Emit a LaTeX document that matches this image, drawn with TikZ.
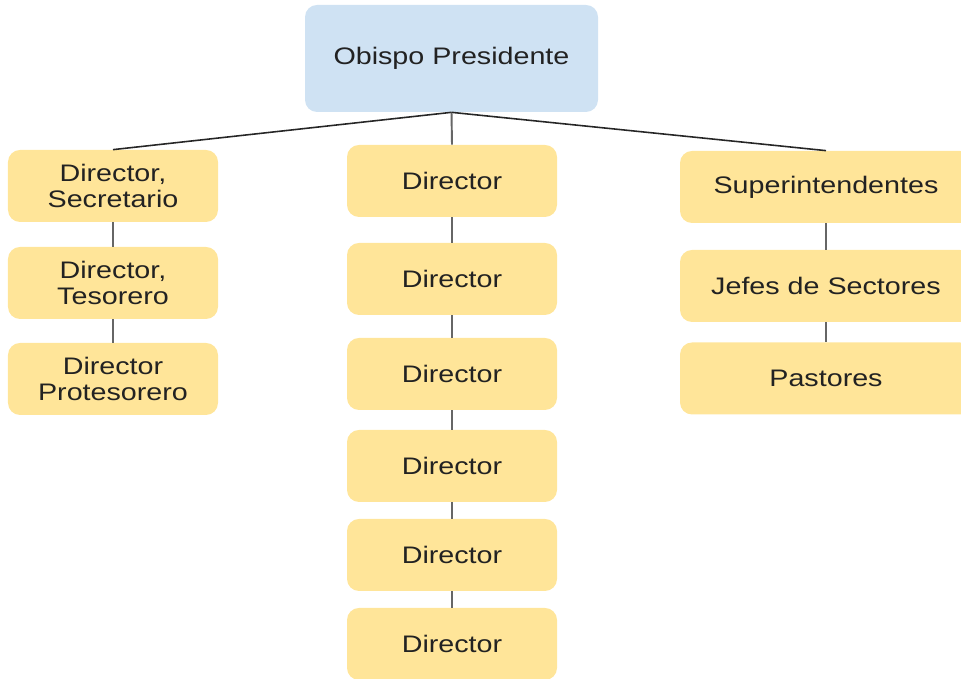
\documentclass[tikz,border=0pt]{standalone}
\usepackage{fontspec}
\setmainfont{Liberation Sans}[FakeStretch=1.2]
\usetikzlibrary{positioning}
\definecolor{jefeblue}{HTML}{CFE2F3}
\definecolor{cargoyellow}{HTML}{FFE599}
\definecolor{textgray}{HTML}{222222}

\begin{document}
\begin{tikzpicture}[
    base/.style={rounded corners=0.24cm, inner sep=0pt, align=center,
                 text=textgray, font=\fontsize{13.6}{15}\selectfont},
    cargo/.style={base, fill=cargoyellow, minimum width=4.2cm, minimum height=1.44cm},
    jefe/.style={base, fill=jefeblue, minimum width=5.86cm, minimum height=2.14cm},
    rama/.style={draw=black!85, line width=0.9pt},
    enlace/.style={draw=black!60, line width=1.1pt}]

        \clip (0, 0) rectangle (19.22, 13.58);

        % Top of the chart
        \node[jefe] (obispo) at (9.03, 12.41) {Obispo Presidente};

        % Left column
        \node[cargo] (l1) at (2.26, 9.86) {Director,\\Secretario};
        \node[cargo] (l2) at (2.26, 7.92) {Director,\\Tesorero};
        \node[cargo] (l3) at (2.26, 6.00) {Director\\Protesorero};
        \draw[enlace] (l1) -- (l2);
        \draw[enlace] (l2) -- (l3);

        % Middle column
        \node[cargo] (c1) at (9.04, 9.96) {Director};
        \node[cargo] (c2) at (9.04, 8.00) {Director};
        \node[cargo] (c3) at (9.04, 6.10) {Director};
        \node[cargo] (c4) at (9.04, 4.26) {Director};
        \node[cargo] (c5) at (9.04, 2.48) {Director};
        \node[cargo] (c6) at (9.04, 0.70) {Director};
        \draw[enlace] (c1) -- (c2);
        \draw[enlace] (c2) -- (c3);
        \draw[enlace] (c3) -- (c4);
        \draw[enlace] (c4) -- (c5);
        \draw[enlace] (c5) -- (c6);

        % Right column
        \node[cargo, minimum width=5.84cm] (r1) at (16.52, 9.84) {Superintendentes};
        \node[cargo, minimum width=5.84cm] (r2) at (16.52, 7.86) {Jefes de Sectores};
        \node[cargo, minimum width=5.84cm] (r3) at (16.52, 6.01) {Pastores};
        \draw[enlace] (r1) -- (r2);
        \draw[enlace] (r2) -- (r3);

        % Branches from the top
        \draw[rama] (obispo.south) -- (l1.north);
        \draw[enlace] (obispo.south) -- (c1.north);
        \draw[rama] (obispo.south) -- (r1.north);

    \end{tikzpicture}
\end{document}
